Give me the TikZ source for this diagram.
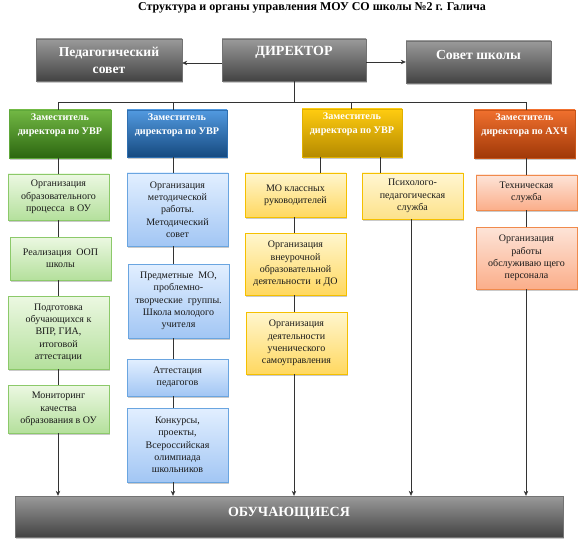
\documentclass[tikz,border=0pt]{standalone}
\usepackage{fontspec}
\setmainfont{Liberation Serif}
\usetikzlibrary{arrows.meta,shadows}
\definecolor{grTop}{HTML}{9A9A9A}\definecolor{grBot}{HTML}{434343}
\definecolor{hgTop}{HTML}{72B844}\definecolor{hgBot}{HTML}{2C6610}\definecolor{hgBd}{HTML}{5FA83A}
\definecolor{hbTop}{HTML}{529AE0}\definecolor{hbBot}{HTML}{164A80}\definecolor{hbBd}{HTML}{2F6FB0}
\definecolor{hyTop}{HTML}{FFCC10}\definecolor{hyBot}{HTML}{B58A00}\definecolor{hyBd}{HTML}{E0B000}
\definecolor{hoTop}{HTML}{F0702E}\definecolor{hoBot}{HTML}{A03808}\definecolor{hoBd}{HTML}{C85418}
\definecolor{lgTop}{HTML}{ECF8E2}\definecolor{lgBot}{HTML}{B4E09C}\definecolor{lgBd}{HTML}{8CC96A}
\definecolor{lbTop}{HTML}{E2EFFF}\definecolor{lbBot}{HTML}{A2C6F4}\definecolor{lbBd}{HTML}{6AA5E0}
\definecolor{lyTop}{HTML}{FFF6CE}\definecolor{lyBot}{HTML}{FFD860}\definecolor{lyBd}{HTML}{F5C000}
\definecolor{lpTop}{HTML}{FFF6D2}\definecolor{lpBot}{HTML}{FDE28A}
\definecolor{loTop}{HTML}{FDE4D8}\definecolor{loBot}{HTML}{FBAE8A}\definecolor{loBd}{HTML}{F08A4C}
\tikzset{
  shd/.style={drop shadow={shadow xshift=1.2pt,shadow yshift=-1.6pt,opacity=0.35,fill=black!60}},
  graybox/.style={shd,draw=black!55,line width=0.4pt,top color=grTop,bottom color=grBot,
    text=white,inner sep=0pt,align=center},
  hdr/.style={shd,line width=0.6pt,text=white,inner sep=0pt,align=center,
    font=\bfseries\fontsize{10.2}{13.8}\selectfont,text depth=19pt},
  hg/.style={hdr,draw=hgBd,top color=hgTop,bottom color=hgBot},
  hb/.style={hdr,draw=hbBd,top color=hbTop,bottom color=hbBot},
  hy/.style={hdr,draw=hyBd,top color=hyTop,bottom color=hyBot},
  ho/.style={hdr,draw=hoBd,top color=hoTop,bottom color=hoBot},
  lt/.style={shd,line width=0.8pt,inner sep=0pt,align=center,text=black!90,
    font=\fontsize{10}{12.3}\selectfont,minimum width=101pt},
  lg/.style={lt,draw=lgBd,top color=lgTop,bottom color=lgBot},
  lb/.style={lt,draw=lbBd,top color=lbTop,bottom color=lbBot},
  ly/.style={lt,draw=lyBd,top color=lyTop,bottom color=lyBot},
  lp/.style={lt,draw=lyBd,top color=lpTop,bottom color=lpBot},
  lo/.style={lt,draw=loBd,top color=loTop,bottom color=loBot},
  ln/.style={draw=black!80,line width=0.6pt},
  arr/.style={ln,-{Stealth[length=5pt,width=4.5pt]}}
}
\begin{document}
\begin{tikzpicture}[x=1pt,y=-1pt]
\useasboundingbox (0,0) rectangle (586,540);
% title
\node[font=\bfseries\fontsize{12}{14}\selectfont] (title) at (312,8)
  {Структура и органы управления МОУ СО школы №2 г. Галича};
% top row
\node[graybox,minimum width=146pt,minimum height=42pt,font=\bfseries\fontsize{13.6}{17}\selectfont]
  (ped) at (109,60) {Педагогический\\совет};
\node[graybox,minimum width=144pt,minimum height=42pt,font=\bfseries\fontsize{14}{16}\selectfont,text depth=18pt]
  (dir) at (294,60) {ДИРЕКТОР};
\node[graybox,minimum width=145pt,minimum height=42pt,font=\bfseries\fontsize{13.8}{16}\selectfont,text depth=15pt]
  (sov) at (478.5,62) {Совет школы};
\draw[arr] ([yshift=-3pt]dir.west) -- ([yshift=-3pt]ped.east);
\draw[arr] ([yshift=-2pt]dir.east) -- ([yshift=-2pt]dir.east -| sov.west);
% headers
\node[hg,minimum width=102pt,minimum height=48pt] (hG) at (60,134) {Заместитель\\директора по УВР};
\node[hb,minimum width=100pt,minimum height=47pt] (hB) at (177,133.5) {Заместитель\\директора по УВР};
\node[hy,minimum width=100pt,minimum height=48pt] (hY) at (352,133) {Заместитель\\директора по УВР};
\node[ho,minimum width=101pt,minimum height=48pt] (hO) at (524.5,134) {Заместитель\\директора по АХЧ};
% column coordinates
\coordinate (bus) at (294,102);
\coordinate (cG) at (58,0);
\coordinate (cB) at (173,0);
\coordinate (cYh) at (351,0);
\coordinate (cY1) at (320,0);
\coordinate (cY) at (294,0);
\coordinate (cP1) at (380,0);
\coordinate (cP) at (411,0);
\coordinate (cO) at (526,0);
% green column
\node[lg,minimum height=46pt] (g1) at (58.5,197) {Организация\\образовательного\\процесса\ \ в ОУ};
\node[lg,minimum height=43pt] (g2) at (60.5,258.5) {Реализация\ \ ООП\\школы};
\node[lg,minimum height=73pt] (g3) at (58.5,332.5) {Подготовка\\обучающихся к\\ВПР, ГИА,\\итоговой\\аттестации};
\node[lg,minimum height=48pt] (g4) at (58.5,409) {Мониторинг\\качества\\образования в ОУ};
% blue column
\node[lb,minimum height=73pt] (b1) at (177.5,209.5) {Организация\\методической\\работы.\\Методический\\совет};
\node[lb,minimum height=74pt] (b2) at (178.5,301) {Предметные\ \ МО,\\проблемно-\\творческие\ \ группы.\\Школа молодого\\учителя};
\node[lb,minimum height=37pt] (b3) at (177.5,377.5) {Аттестация\\педагогов};
\node[lb,minimum height=74pt] (b4) at (177.5,445) {Конкурсы,\\проекты,\\Всероссийская\\олимпиада\\школьников};
% yellow column
\node[ly,minimum height=44pt] (y1) at (295.5,195) {МО классных\\руководителей};
\node[ly,minimum height=62pt] (y2) at (295.5,264) {Организация\\внеурочной\\образовательной\\деятельности\ \ и ДО};
\node[ly,minimum height=62pt] (y3) at (296.5,343) {Организация\\деятельности\\ученического\\самоуправления};
\node[lp,minimum height=46pt] (p) at (412.5,196) {Психолого-\\педагогическая\\служба};
% orange column
\node[lo,minimum height=35pt] (o1) at (526.5,192.5) {Техническая\\служба};
\node[lo,minimum height=62pt] (o2) at (526.5,258) {Организация\\работы\\обслуживаю щего\\персонала};
% bottom
\node[graybox,minimum width=548pt,minimum height=41pt,font=\bfseries\fontsize{14}{16}\selectfont,text depth=9pt]
  (obu) at (289,516.5) {ОБУЧАЮЩИЕСЯ};
% bus
\draw[ln] (dir.south) -- (bus);
\draw[ln] (hG.north -| cG) -- (bus -| cG) -- (bus -| cO) -- (hO.north -| cO);
\draw[ln] (bus -| cB) -- (hB.north -| cB);
\draw[ln] (bus -| cYh) -- (hY.north -| cYh);
% green links
\draw[ln] (hG.south -| cG) -- (g1.north -| cG);
\draw[ln] (g1.south -| cG) -- (g2.north -| cG);
\draw[ln] (g2.south -| cG) -- (g3.north -| cG);
\draw[ln] (g3.south -| cG) -- (g4.north -| cG);
\draw[arr] (g4.south -| cG) -- (obu.north -| cG);
% blue links
\draw[ln] (hB.south -| cB) -- (b1.north -| cB);
\draw[ln] (b1.south -| cB) -- (b2.north -| cB);
\draw[ln] (b2.south -| cB) -- (b3.north -| cB);
\draw[ln] (b3.south -| cB) -- (b4.north -| cB);
\draw[arr] (b4.south -| cB) -- (obu.north -| cB);
% yellow links
\draw[ln] (hY.south -| cY1) -- (y1.north -| cY1);
\draw[ln] (y1.south -| cY) -- (y2.north -| cY);
\draw[ln] (y2.south -| cY) -- (y3.north -| cY);
\draw[arr] (y3.south -| cY) -- (obu.north -| cY);
\draw[ln] (hY.south -| cP1) -- (p.north -| cP1);
\draw[arr] (p.south -| cP) -- (obu.north -| cP);
% orange links
\draw[ln] (hO.south -| cO) -- (o1.north -| cO);
\draw[ln] (o1.south -| cO) -- (o2.north -| cO);
\draw[arr] (o2.south -| cO) -- (obu.north -| cO);
\end{tikzpicture}
\end{document}
